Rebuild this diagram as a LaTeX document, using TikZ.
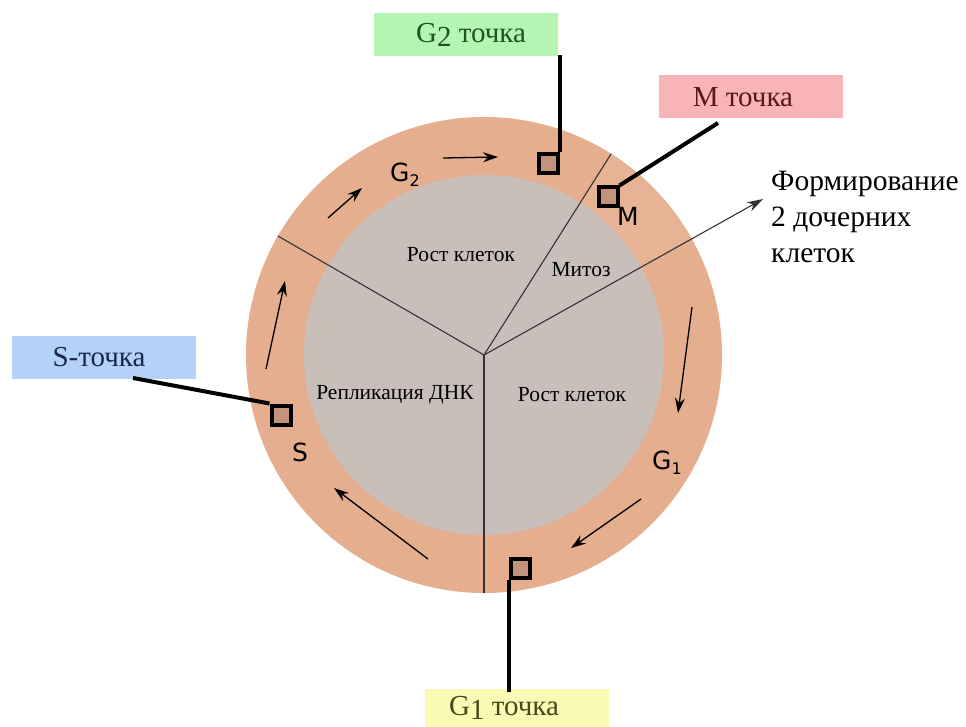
\documentclass[tikz,border=0pt]{standalone}
\usepackage{fontspec}
\setmainfont{Liberation Serif}
\newfontfamily\phasefont{DejaVu Sans}
\usetikzlibrary{arrows.meta}
\definecolor{ring}{RGB}{228,174,143}
\definecolor{mring}{RGB}{230,179,149}
\definecolor{core}{RGB}{200,191,186}
\definecolor{chk}{RGB}{196,146,122}
\definecolor{gbox}{RGB}{180,245,180}
\definecolor{mbox}{RGB}{248,180,184}
\definecolor{sbox}{RGB}{180,210,248}
\definecolor{ybox}{RGB}{250,250,180}
\definecolor{gtext}{RGB}{30,85,30}
\definecolor{mtext}{RGB}{90,25,25}
\definecolor{stext}{RGB}{25,40,72}
\definecolor{ytext}{RGB}{72,72,25}

\begin{document}
\begin{tikzpicture}[x=1pt, y=-1pt,
                    every node/.style = {inner sep=0pt},
                    divider/.style = {draw=black!80, line width=1.1pt},
                    cyc/.style = {draw, line width=1.3pt, -{Stealth[length=15pt, width=10pt, inset=5pt]}},
                    chkbox/.style = {draw, line width=4pt, fill=chk, minimum size=19pt},
                    flag/.style = {line width=4pt},
                    tag/.style = {minimum width=184pt, minimum height=43pt, font=\fontsize{29}{33}\selectfont},
                    phase/.style = {font=\phasefont\fontsize{25}{25}\selectfont},
                    inside/.style = {font=\fontsize{21.5}{24}\selectfont}]
                \useasboundingbox (0,0) rectangle (966,727);
                \coordinate (c) at (484,355);
                % ring and core
                \fill[ring] (c) circle[radius=238pt];
                \fill[mring] (c) -- ++(29:238pt) arc[start angle=29, end angle=57.7, radius=238pt] -- cycle;
                \fill[core] (c) circle[radius=180pt];
                % phase borders
                \coordinate (tip) at (763,199);
                \draw[divider] (c) -- ++(150:238pt);
                \draw[divider] (c) -- ++(57.7:238pt);
                \draw[divider] (c) -- ++(270:238pt);
                \draw[divider, -{Stealth[length=16pt, width=10pt, inset=5pt]}] (c) -- (tip);
                % cycle direction
                \foreach \xa/\ya/\xb/\yb in {443/158/498/157, 328/218/362/188, 266/369/285/281,
                                             428/559/334/488, 641/499/571/548, 692/307/678/413}
                    \draw[cyc] (\xa,\ya) -- (\xb,\yb);
                % inner texts
                \node (grow1) [inside] at (461,255) {Рост клеток};
                \node (mit)   [inside] at (581,270) {Митоз};
                \node (rep)   [inside] at (395,395) {Репликация ДНК};
                \node (grow2) [inside] at (572,395) {Рост клеток};
                \node (form) [anchor=north west, align=left, font=\fontsize{29.5}{36}\selectfont] at (771,171)
                      {Формирование\\2 дочерних\\клеток};
                % phases
                \node (g2) [phase] at (405,175) {G\raisebox{-0.35ex}{\fontsize{16}{16}\selectfont 2}};
                \node (m)  [phase] at (628,216) {M};
                \node (s)  [phase] at (300,452) {S};
                \node (g1) [phase] at (667,463) {G\raisebox{-0.35ex}{\fontsize{16}{16}\selectfont 1}};
                % checkpoints
                \node (g2sq) [chkbox] at (548,164) {};
                \node (msq)  [chkbox] at (608,197) {};
                \node (ssq)  [chkbox] at (281,415) {};
                \node (g1sq) [chkbox] at (520,568) {};
                \node (g2lab) [tag, fill=gbox, text=gtext] at (466,35)  {\kern10pt G\raisebox{-0.3ex}{2} точка};
                \node (mlab)  [tag, fill=mbox, text=mtext] at (751,97)  {M точка\kern16pt};
                \node (slab)  [tag, fill=sbox, text=stext] at (104,357) {S-точка\kern10pt};
                \node (g1lab) [tag, fill=ybox, text=ytext, minimum height=39pt] at (517,708) {G\raisebox{-0.3ex}{1} точка\kern26pt};
                \coordinate (mend) at (718,123);
                \coordinate (send) at (133,378);
                \draw[flag] (g2sq.north east) -- ([yshift=2pt]g2sq.north east |- g2lab.south);
                \draw[flag] (msq.north east) -- (mend);
                \draw[flag] (ssq.north west) -- (send);
                \draw[flag] (g1sq.south west) -- ([yshift=-4pt]g1sq.south west |- g1lab.north);
            \end{tikzpicture}
\end{document}
